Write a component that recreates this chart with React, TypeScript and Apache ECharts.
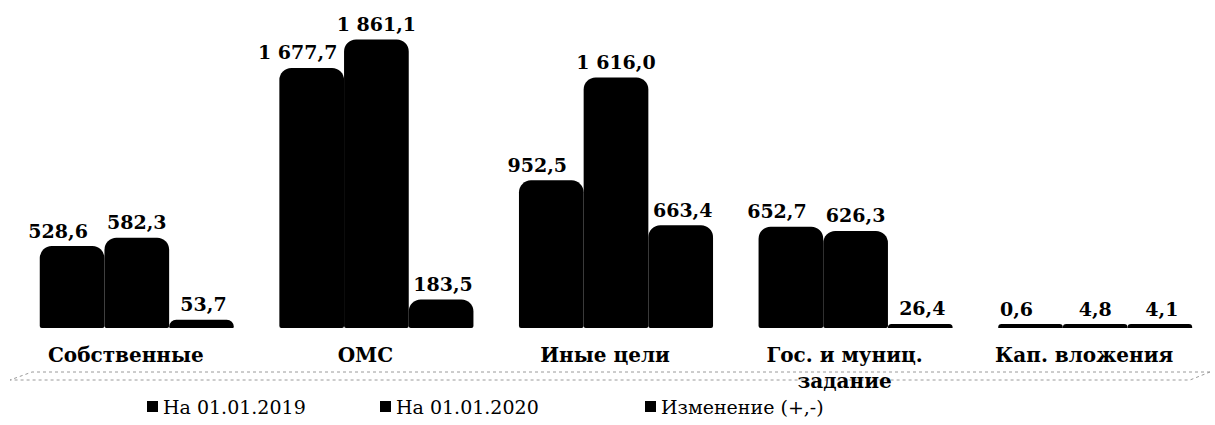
import React, { useEffect, useRef } from "react";
import * as echarts from "echarts";

const categories = ["Собственные", "ОМС", "Иные цели", "Гос. и муниц.\nзадание", "Кап. вложения"];
const seriesNames = ["На 01.01.2019", "На 01.01.2020", "Изменение (+,-)"];
const values2019 = [528.6, 1677.7, 952.5, 652.7, 0.6];
const values2020 = [582.3, 1861.1, 1616.0, 626.3, 4.8];
const valuesChange = [53.7, 183.5, 663.4, 26.4, 4.1];

const fmt = (v: number) => {
  const s = v.toFixed(1);
  const [i, d] = s.split(".");
  const ii = i.replace(/\B(?=(\d{3})+(?!\d))/g, " ");
  return ii + "," + d;
};

const FONT = "DejaVu Serif";

export default function App() {
  const ref = useRef<HTMLDivElement>(null);
  useEffect(() => {
    if (!ref.current) return;
    const chart = echarts.init(ref.current, null, { renderer: "svg" });
    const mk = (name: string, data: number[], dx: number) => ({
      name,
      type: "bar",
      data,
      barGap: "0%",
      barCategoryGap: "19%",
      barMinHeight: 4,
      itemStyle: { color: "#000", borderRadius: [12, 12, 2, 2] },
      label: {
        show: true,
        position: "top",
        distance: 6,
        offset: [dx, 0],
        color: "#000",
        fontFamily: FONT,
        fontWeight: "bold",
        fontSize: 19,
        formatter: (p: any) => fmt(p.value),
      },
    });
    const lg = (name: string, left: number) => ({
      bottom: 4,
      left,
      itemWidth: 11,
      itemHeight: 11,
      icon: "rect",
      textStyle: { fontFamily: FONT, fontSize: 19, color: "#000" },
      data: [name],
    });
    chart.setOption({
      animation: false,
      backgroundColor: "#fff",
      grid: { left: 17, right: -2, top: 18, bottom: 97, containLabel: false },
      legend: [lg(seriesNames[0], 142), lg(seriesNames[1], 375), lg(seriesNames[2], 640)],
      xAxis: {
        type: "category",
        data: categories,
        axisLine: { show: false },
        axisTick: { show: false },
        axisLabel: {
          color: "#000",
          fontFamily: FONT,
          fontWeight: "bold",
          fontSize: 20,
          margin: 14,
          lineHeight: 26,
          interval: 0,
          padding: [0, 22, 0, 0],
        },
      },
      yAxis: { type: "value", min: 0, max: 2000, show: false, splitLine: { show: false } },
      graphic: [
        {
          type: "polyline",
          shape: { points: [[1210, 372], [32, 372], [10, 380], [1190, 380], [1210, 372]] },
          style: { stroke: "#9a9a9a", lineWidth: 1, lineDash: [3, 3], fill: null },
          silent: true,
        },
      ],
      series: [
        mk(seriesNames[0], values2019, -14),
        mk(seriesNames[1], values2020, 0),
        mk(seriesNames[2], valuesChange, 2),
      ],
    });
    return () => chart.dispose();
  }, []);
  return <div ref={ref} style={{ position: "fixed", left: 0, top: 0, width: 1215, height: 425 }} />;
}
